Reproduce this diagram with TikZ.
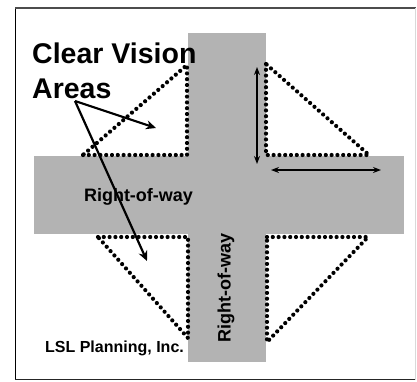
\documentclass[tikz,border=0pt]{standalone}
\usepackage{fontspec}
\setmainfont{Liberation Sans}
\usetikzlibrary{arrows.meta,decorations.markings}
\definecolor{road}{RGB}{179,179,179}
\tikzset{
  road/.style={fill=road, draw=none},
  sight/.style={postaction={decorate}, decoration={markings,
      mark=between positions 0 and 1 step 5.8pt with {\fill[black] (0,0) circle (2.1pt);}}},
  pointer/.style={line width=2.2pt, -{Stealth[length=10pt,width=9pt]}},
  dim/.style={line width=1.3pt, {Stealth[length=8pt,width=6pt]}-{Stealth[length=8pt,width=6pt]}},
  lbl/.style={inner sep=0pt, font=\bfseries},
}
\begin{document}
\begin{tikzpicture}[x=1pt,y=-1pt]
\useasboundingbox (0,0) rectangle (417,381);
\fill[white] (0,0) rectangle (417,381);
% frame
\draw[line width=1pt, black] (15.5,8) -- (15.5,379.5);
\draw[line width=2pt, black!70] (15,8) -- (416,8);
\draw[line width=1.5pt, black!85] (15,379.5) -- (416,379.5);
\draw[line width=1pt, black!15] (415.5,8) -- (415.5,379.5);
% roads
\fill[road] (188,33) rectangle (266,362);
\fill[road] (34,156) rectangle (404,234);
% clear vision triangles
\path[sight] (83,155) -- (187,155) -- (187,65) -- cycle;
\path[sight] (266,64) -- (266,155) -- (369,155) -- cycle;
\path[sight] (98,237) -- (188,237) -- (188,338) -- cycle;
\path[sight] (267,237) -- (368,237) -- (267,342) -- cycle;
% dimension arrows
\coordinate (v1) at (257,67);
\coordinate (v2) at (257,164);
\coordinate (h1) at (271,170);
\coordinate (h2) at (381,170);
\draw[dim] (v1) -- (v2);
\draw[dim] (h1) -- (h2);
% labels
\node[lbl, font=\fontsize{28.5}{35}\selectfont\bfseries, anchor=north west, align=left] (cva) at (32,43) {Clear Vision\\Areas};
\node[lbl, font=\fontsize{18}{20}\selectfont\bfseries] (row1) at (138.5,197) {Right-of-way};
\node[lbl, font=\fontsize{18}{20}\selectfont\bfseries, rotate=90] (row2) at (226,287.5) {Right-of-way};
\node[lbl, font=\fontsize{16}{18}\selectfont\bfseries] (lsl) at (114.5,348) {LSL Planning, Inc.};
% pointers
\coordinate (p0) at (75,101);
\coordinate (t1) at (156,128);
\coordinate (t2) at (147,261);
\draw[pointer] (p0) -- (t1);
\draw[pointer] (p0) -- (t2);
\end{tikzpicture}
\end{document}
